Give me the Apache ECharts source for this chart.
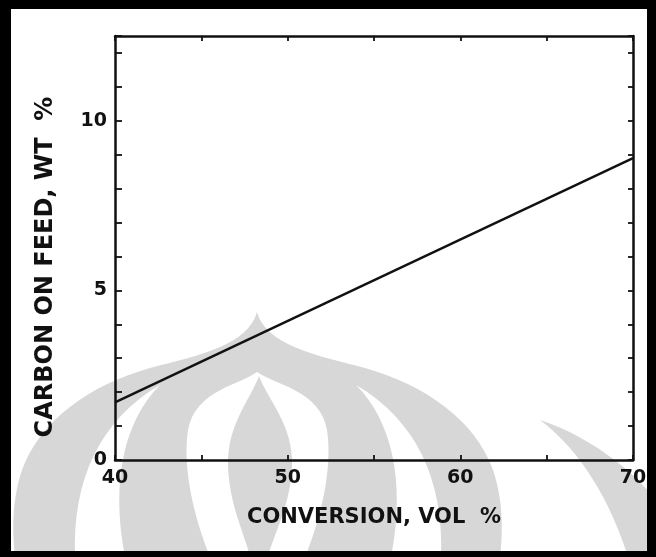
<!DOCTYPE html>
<html>
<head>
<meta charset="utf-8">
<script src="https://cdn.jsdelivr.net/npm/echarts@6/dist/echarts.min.js"></script>
<style>
  html, body { margin: 0; padding: 0; background: #fff; }
  #chart { width: 656px; height: 557px; }
</style>
</head>
<body>
<div id="chart"></div>
<script>
// Conversion (vol %) vs. carbon on feed (wt %)
const conversion = [40, 70];
const carbonOnFeed = [1.7, 8.9];
const xTicks = [40, 50, 60, 70];
const yTicks = [0, 5, 10];

const INK = '#111';
const FONT = 'DejaVu Sans';
const WM = '#d7d7d7';

const lineData = conversion.map((x, i) => [x, carbonOnFeed[i]]);

// Turn a simple "M x y C ... L ... Z" outline into polygon points
function outline(d) {
  const t = d.trim().split(/\s+/);
  const pts = [];
  let i = 0, cx = 0, cy = 0;
  while (i < t.length) {
    const c = t[i++];
    if (c === 'M' || c === 'L') {
      cx = +t[i++]; cy = +t[i++]; pts.push([cx, cy]);
    } else if (c === 'C') {
      const x1 = +t[i++], y1 = +t[i++], x2 = +t[i++], y2 = +t[i++], x3 = +t[i++], y3 = +t[i++];
      for (let k = 1; k <= 16; k++) {
        const s = k / 16, u = 1 - s;
        pts.push([
          u * u * u * cx + 3 * u * u * s * x1 + 3 * u * s * s * x2 + s * s * s * x3,
          u * u * u * cy + 3 * u * u * s * y1 + 3 * u * s * s * y2 + s * s * s * y3
        ]);
      }
      cx = x3; cy = y3;
    } else if (c === 'Z') {
      break;
    }
  }
  return pts;
}

function blob(d, fill, z) {
  return { type: 'polygon', z: z, silent: true, shape: { points: outline(d) }, style: { fill: fill } };
}

// faint emblem behind the plot
const emblem = [
  blob('M 257 312 C 248 345 200 355 150 368 C 90 385 40 420 22 470 C 12 500 12 530 15 557 L 500 557 C 503 530 503 500 493 470 C 475 420 425 385 365 368 C 315 355 266 345 257 312 Z', WM, -10),
  blob('M 75 557 C 72 480 100 420 160 385 C 125 420 110 480 125 557 Z', '#fff', -9),
  blob('M 441 557 C 444 480 416 420 356 385 C 391 420 406 480 391 557 Z', '#fff', -9),
  blob('M 257 372 C 240 385 195 390 188 430 C 182 470 195 520 210 557 L 305 557 C 320 520 333 470 327 430 C 320 390 275 385 257 372 Z', '#fff', -9),
  blob('M 259 376 C 250 400 227 425 228 465 C 229 505 245 535 250 557 L 268 557 C 273 535 291 505 292 465 C 293 425 268 400 259 376 Z', WM, -8),
  blob('M 540 420 C 600 440 640 480 656 500 L 656 557 L 628 557 C 610 500 580 450 540 420 Z', WM, -10)
];

const chart = echarts.init(document.getElementById('chart'), null, { renderer: 'canvas' });

const baseAxis = {
  axisLine: { show: true, onZero: false, lineStyle: { color: INK, width: 2.5 } },
  splitLine: { show: false },
  axisTick: { show: true, inside: true, length: 6, lineStyle: { color: INK, width: 1.8 } }
};

chart.setOption({
  backgroundColor: '#fff',
  animation: false,
  grid: { left: 115, right: 23, top: 36, bottom: 97 },
  xAxis: [
    Object.assign({}, baseAxis, {
      type: 'value', min: 40, max: 70, interval: 5, position: 'bottom',
      axisTick: { show: true, inside: true, length: 5, lineStyle: { color: INK, width: 1.8 } },
      axisLabel: {
        show: true, margin: 9, color: INK, fontFamily: FONT, fontWeight: 'bold', fontSize: 19,
        formatter: v => xTicks.includes(v) ? String(v) : ''
      },
      name: 'CONVERSION, VOL  %', nameLocation: 'middle', nameGap: 47,
      nameTextStyle: { color: INK, fontFamily: FONT, fontWeight: 'bold', fontSize: 21 }
    }),
    Object.assign({}, baseAxis, {
      type: 'value', min: 40, max: 70, interval: 5, position: 'top',
      axisTick: { show: true, inside: true, length: 5, lineStyle: { color: INK, width: 1.8 } },
      axisLabel: { show: false }
    })
  ],
  yAxis: [
    Object.assign({}, baseAxis, {
      type: 'value', min: 0, max: 12.5, interval: 1, position: 'left',
      axisTick: { show: true, inside: true, length: 7, lineStyle: { color: INK, width: 1.8 } },
      axisLabel: {
        show: true, margin: 8, color: INK, fontFamily: FONT, fontWeight: 'bold', fontSize: 19,
        formatter: v => yTicks.includes(v) ? String(v) : ''
      },
      name: 'CARBON ON FEED, WT  %', nameLocation: 'middle', nameGap: 57, nameRotate: 90,
      nameTextStyle: {
        color: INK, fontFamily: FONT, fontWeight: 'bold', fontSize: 24,
        padding: [0, 38, 0, 0]
      }
    }),
    Object.assign({}, baseAxis, {
      type: 'value', min: 0, max: 12.5, interval: 1, position: 'right',
      axisTick: { show: true, inside: true, length: 5, lineStyle: { color: INK, width: 1.8 } },
      axisLabel: { show: false }
    })
  ],
  series: [{
    type: 'line',
    data: lineData,
    xAxisIndex: 0, yAxisIndex: 0,
    showSymbol: false, symbol: 'none',
    lineStyle: { color: INK, width: 2.4 },
    z: 5
  }],
  graphic: emblem.concat([
    // black frame around the figure
    { type: 'rect', z: 100, silent: true, shape: { x: 0, y: 0, width: 656, height: 9 }, style: { fill: '#000' } },
    { type: 'rect', z: 100, silent: true, shape: { x: 0, y: 0, width: 11, height: 557 }, style: { fill: '#000' } },
    { type: 'rect', z: 100, silent: true, shape: { x: 647, y: 0, width: 9, height: 557 }, style: { fill: '#000' } },
    { type: 'rect', z: 100, silent: true, shape: { x: 0, y: 551, width: 656, height: 6 }, style: { fill: '#000' } }
  ])
});
</script>
</body>
</html>
